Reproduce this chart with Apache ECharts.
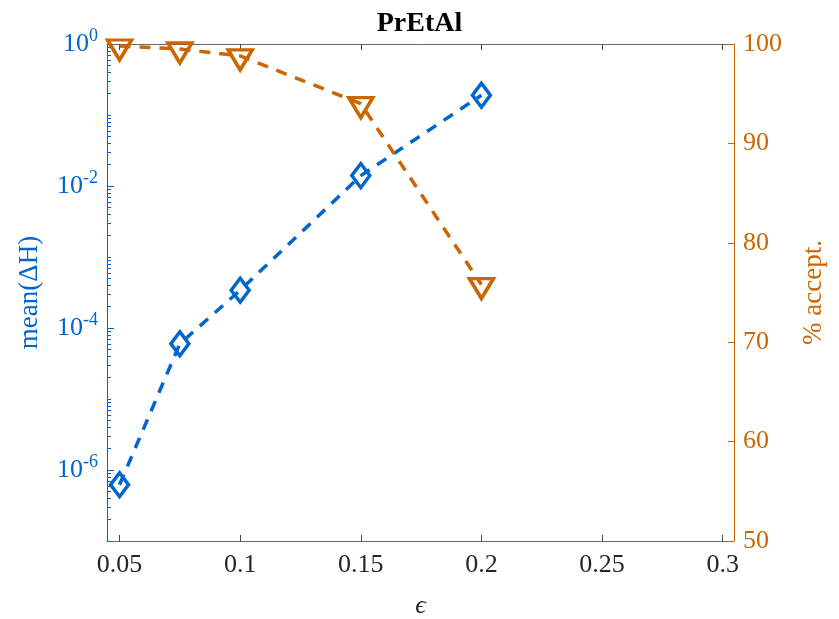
<!DOCTYPE html>
<html>
<head>
<meta charset="utf-8">
<script src="https://cdn.jsdelivr.net/npm/echarts@6/dist/echarts.min.js"></script>
<style>
    html, body { margin: 0; padding: 0; background: #fff; }
    #chart { width: 839px; height: 619px; }
</style>
</head>
<body>
<div id="chart"></div>
<script>
// step size epsilon
const epsValues = [0.05, 0.075, 0.1, 0.15, 0.2];
// mean(dH), left log axis
const meanDH = [6.2e-7, 6.0e-5, 3.4e-4, 1.4e-2, 0.19];
// % accepted, right axis
const acceptPct = [99.8, 99.5, 98.8, 94.0, 75.8];

const xTicks = [0.05, 0.1, 0.15, 0.2, 0.25, 0.3];
const logMajor = [1e-6, 1e-4, 1e-2, 1];
const rightTicks = [50, 60, 70, 80, 90, 100];

const blue = '#0066CC';
const orange = '#CC6600';
const font = 'Liberation Serif';

document.addEventListener("DOMContentLoaded", function () {
    var chart = echarts.init(document.getElementById('chart'));

    // minor ticks of the log axis: 1..9 x 10^k
    var logMinor = [];
    for (var k = -7; k <= 0; k++) {
        for (var m = 1; m <= 9; m++) {
            var v = m * Math.pow(10, k);
            if (v >= 1e-7 && v <= 1) logMinor.push(v);
        }
    }

    function supLabel(v) {
        var e = Math.round(Math.log10(v));
        return '10{sup|' + e + '}';
    }

    var option = {
        animation: false,
        title: {
            text: 'PrEtAl',
            left: 'center',
            top: 5,
            textStyle: { fontFamily: font, fontWeight: 'bold', fontSize: 28, color: '#000' }
        },
        grid: { left: 107, right: 105, top: 44, bottom: 78, outerBoundsMode: 'none', containLabel: false },
        xAxis: [
            {
                type: 'value',
                min: 0.0448,
                max: 0.3047,
                name: 'ϵ',
                nameLocation: 'middle',
                nameGap: 52,
                nameTextStyle: { fontFamily: font, fontStyle: 'italic', fontSize: 26, color: '#262626' },
                axisLine: { show: true, lineStyle: { color: '#666', width: 1 } },
                axisTick: { show: true, inside: true, length: 6, customValues: xTicks, lineStyle: { color: '#444' } },
                axisLabel: { customValues: xTicks, fontFamily: font, fontSize: 26, color: '#262626', margin: 11 },
                splitLine: { show: false }
            },
            {
                type: 'value',
                position: 'top',
                min: 0.0448,
                max: 0.3047,
                axisLine: { show: true, lineStyle: { color: '#666', width: 1 } },
                axisTick: { show: true, inside: true, length: 6, customValues: xTicks, lineStyle: { color: '#444' } },
                axisLabel: { show: false },
                splitLine: { show: false }
            }
        ],
        yAxis: [
            {
                type: 'log',
                position: 'left',
                min: 1e-7,
                max: 1,
                logBase: 10,
                name: 'mean(ΔH)',
                nameLocation: 'middle',
                nameGap: 64,
                nameTextStyle: { fontFamily: font, fontSize: 27, color: blue },
                axisLine: { show: true, lineStyle: { color: blue, width: 1 } },
                axisTick: { show: true, inside: true, length: 7, customValues: logMajor, lineStyle: { color: blue } },
                axisLabel: {
                    customValues: logMajor,
                    margin: 9,
                    formatter: supLabel,
                    color: blue,
                    fontFamily: font,
                    fontSize: 26,
                    rich: {
                        sup: { fontFamily: font, fontSize: 18, color: blue, padding: [0, 0, 16, 0] }
                    }
                },
                splitLine: { show: false }
            },
            {
                type: 'value',
                position: 'right',
                min: 50,
                max: 100,
                interval: 10,
                name: '% accept.',
                nameLocation: 'middle',
                nameGap: 66,
                nameRotate: 90,
                nameTextStyle: { fontFamily: font, fontSize: 27, color: orange },
                axisLine: { show: true, lineStyle: { color: orange, width: 1 } },
                axisTick: { show: true, inside: true, length: 6, lineStyle: { color: orange } },
                axisLabel: { fontFamily: font, fontSize: 26, color: orange, margin: 9 },
                splitLine: { show: false }
            },
            {
                type: 'log',
                position: 'left',
                min: 1e-7,
                max: 1,
                logBase: 10,
                axisLine: { show: false },
                axisTick: { show: true, inside: true, length: 4, customValues: logMinor, lineStyle: { color: blue, width: 1 } },
                axisLabel: { show: false },
                splitLine: { show: false }
            }
        ],
        series: [
            {
                type: 'line',
                xAxisIndex: 0,
                yAxisIndex: 0,
                data: epsValues.map(function (x, i) { return [x, meanDH[i]]; }),
                symbol: 'diamond',
                symbolSize: [18, 24],
                clip: false,
                lineStyle: { color: blue, width: 3.5, type: [11, 9] },
                itemStyle: { color: 'rgba(0,0,0,0)', borderColor: blue, borderWidth: 3.5 },
                z: 3
            },
            {
                type: 'line',
                xAxisIndex: 0,
                yAxisIndex: 1,
                data: epsValues.map(function (x, i) { return [x, acceptPct[i]]; }),
                symbol: 'triangle',
                symbolRotate: 180,
                symbolSize: [24, 20],
                symbolOffset: [0, 4],
                clip: false,
                lineStyle: { color: orange, width: 3.5, type: [11, 9] },
                itemStyle: { color: 'rgba(0,0,0,0)', borderColor: orange, borderWidth: 3.5 },
                z: 4
            }
        ]
    };

    chart.setOption(option);
    window.addEventListener("resize", function () {
        chart.resize();
    });
});
</script>
</body>
</html>
